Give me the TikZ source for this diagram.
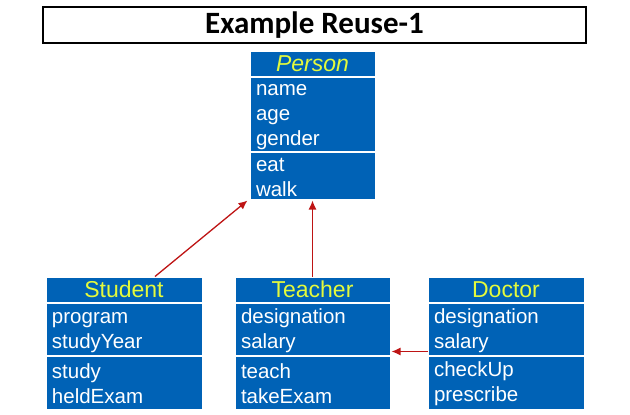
\documentclass[tikz,border=0pt]{standalone}
\usepackage{fontspec}
\setmainfont{Liberation Sans}
\newfontfamily\titlefont{Carlito}
\usetikzlibrary{positioning,arrows.meta}
\definecolor{umlblue}{RGB}{0,98,182}
\definecolor{umlyellow}{RGB}{228,250,60}
\definecolor{linkred}{RGB}{190,20,20}

\begin{document}
\begin{tikzpicture}[x=1pt,y=-1pt,>={Latex[length=9pt,width=8pt]},
    head/.style={fill=umlblue,draw=white,line width=1pt,text width=#1,align=center,
        inner xsep=6pt,inner ysep=0pt,minimum height=25pt,
        text=umlyellow,font=\fontsize{23}{25}\selectfont},
    part/.style={fill=umlblue,draw=white,line width=1pt,text width=#1,align=left,
        inner xsep=6pt,inner ysep=0pt,execute at begin node=\strut,
        text=white,font=\fontsize{20.5}{25}\selectfont},
    link/.style={->,draw=linkred,line width=1.3pt}]
        \useasboundingbox(0,0)rectangle(630,415);
        \node[draw,line width=1.2pt,minimum width=543pt,minimum height=36pt](title)at(314.5,25)
            {\titlefont\bfseries\fontsize{31}{31}\selectfont Example Reuse-1};

        \node[head=113pt](person)at(312.5,63.5){\textit{Person}};
        \node[part=113pt,minimum height=74pt,below=0pt of person](person-attr){name\\age\\gender};
        \node[part=113pt,minimum height=47pt,below=0pt of person-attr](person-ops){eat\\walk};

        \node[head=144pt](student)at(124,289.5){Student};
        \node[part=144pt,minimum height=52pt,below=0pt of student](student-attr){program\\studyYear};
        \node[part=144pt,minimum height=53pt,below=0pt of student-attr](student-ops){study\\heldExam};

        \node[head=143pt](teacher)at(312.5,289.5){Teacher};
        \node[part=143pt,minimum height=52pt,below=0pt of teacher](teacher-attr){designation\\salary};
        \node[part=143pt,minimum height=53pt,below=0pt of teacher-attr](teacher-ops){teach\\takeExam};

        \node[head=144pt](doctor)at(506,289.5){Doctor};
        \node[part=144pt,minimum height=52pt,below=0pt of doctor](doctor-attr){designation\\salary};
        \node[part=144pt,minimum height=53pt,below=0pt of doctor-attr](doctor-ops){checkUp\\prescribe};

        \draw[link]([xshift=31pt]student.north)--([xshift=-2pt,yshift=-1pt]person-ops.south west);
        \draw[link](teacher.north)--([yshift=-1pt]person-ops.south);
        \draw[link]([yshift=4pt]doctor-attr.south west)--([xshift=1pt,yshift=4pt]teacher-attr.south east);
    \end{tikzpicture}
\end{document}
